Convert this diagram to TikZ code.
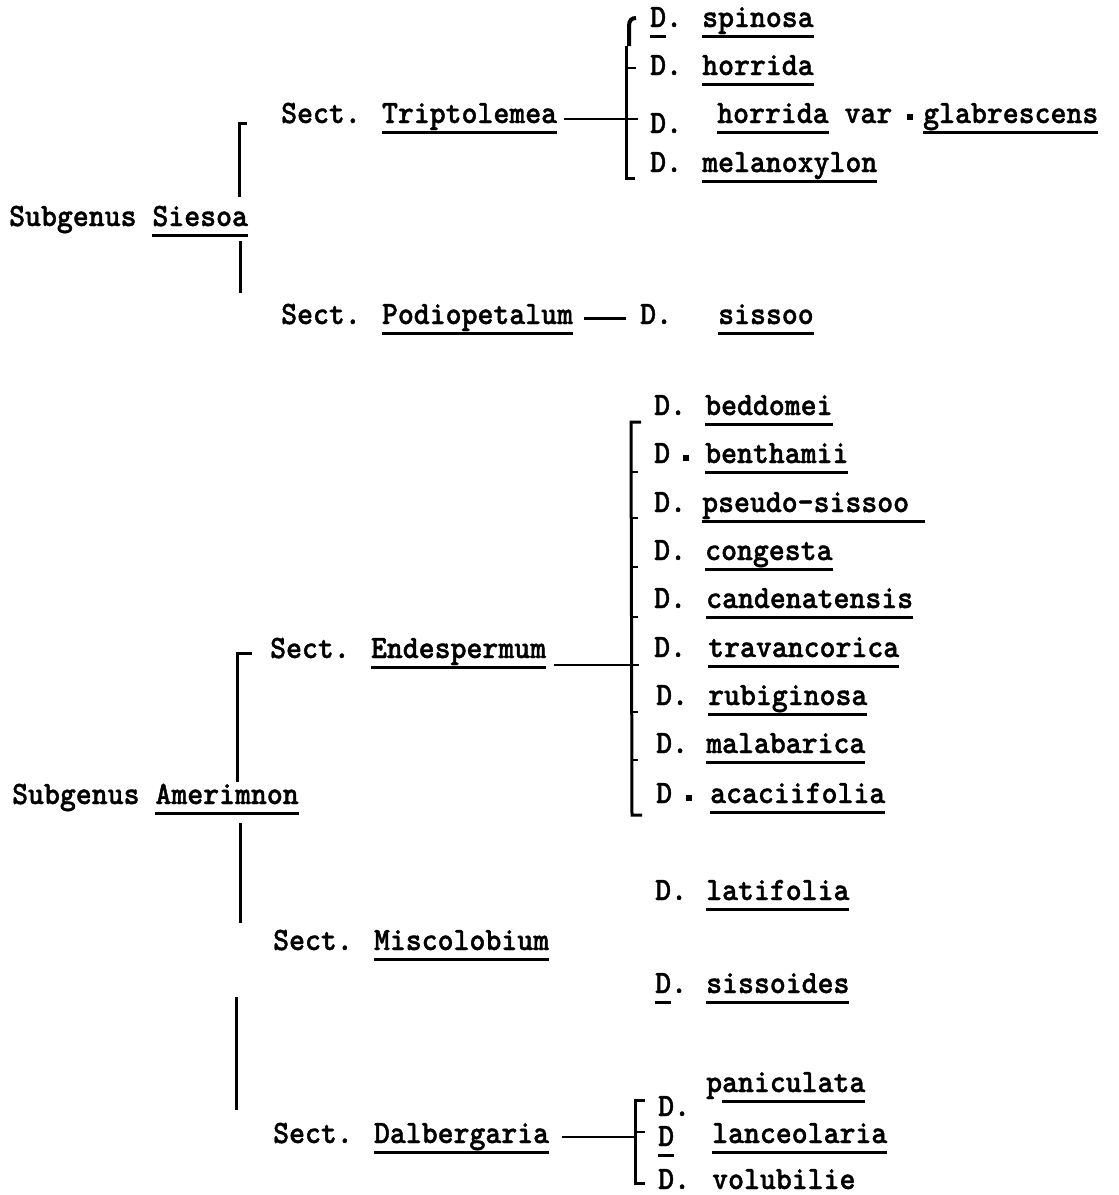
\documentclass[tikz,border=0pt]{standalone}
\usepackage{fontspec}
\newfontfamily\tw{lmmonolt10-bold.otf}[FakeStretch=0.93,FakeBold=1.2]
\newsavebox\ulbox
\newcommand{\tul}[1]{\sbox\ulbox{#1}\rlap{\raisebox{-10.5pt}{\rule{\wd\ulbox}{2.8pt}}}\usebox\ulbox}
\begin{document}
\begin{tikzpicture}[x=1pt,y=-1pt,
  lbl/.style={anchor=base west,inner sep=0pt,font=\tw\fontsize{32.6}{36}\selectfont},
  brk/.style={line width=3pt},
  conn/.style={line width=1.8pt},
  sq/.style={fill=black,inner sep=0pt,minimum size=6.5pt}]
\useasboundingbox (0,0) rectangle (1119,1195);
% ---------------- Subgenus Siesoa
\node[lbl] (siesoa) at (9,226) {Subgenus \tul{Siesoa}};
\node[lbl] (tript) at (281,123) {Sect. \tul{Triptolemea}};
\node[lbl] (podio) at (281,324) {Sect. \tul{Podiopetalum}};
\coordinate (s1) at (239,123); \coordinate (s2) at (239,197);
\coordinate (s3) at (240,241); \coordinate (s4) at (240,293);
\draw[brk] (247,123) -- (s1) -- (s2);
\draw[brk] (s3) -- (s4);
% Triptolemea species
\node[lbl] (d1) at (650,27) {\tul{D}.};
\node[lbl] (n1) at (702,27) {\tul{spinosa}};
\node[lbl] (d2) at (650,75) {D.};
\node[lbl] (n2) at (702,75) {\tul{horrida}};
\node[lbl] (d3) at (650,133) {D.};
\node[lbl] (n3) at (717,123) {\tul{horrida} var};
\node[sq] (q3) at (910,117) {};
\node[lbl] (n3b) at (923,123) {\tul{glabrescens}};
\node[lbl] (d4) at (650,172) {D.};
\node[lbl] (n4) at (702,172) {\tul{melanoxylon}};
\coordinate (t0) at (626,46); \coordinate (t1) at (626,68);
\coordinate (t2) at (626,119); \coordinate (t3) at (626,178);
\draw[line width=4pt] (629,46) -- (629,26) .. controls (629,20) and (632,18) .. (636,18);
\draw[brk] (t0) -- (t3) -- (635,178);
\draw[conn] (t1) -- (636,68);
\coordinate (tc) at (564,119);
\draw[conn] (tc) -- (t2) -- (638,119);
% Podiopetalum
\node[lbl] (d5) at (640,324) {D.};
\node[lbl] (n5) at (718,324) {\tul{sissoo}};
\coordinate (pc) at (584,318);
\draw[line width=3pt] (pc) -- (626,318);
% ---------------- Subgenus Amerimnon
\node[lbl] (amer) at (12,804) {Subgenus \tul{Amerimnon}};
\node[lbl] (endes) at (270,658) {Sect. \tul{Endespermum}};
\node[lbl] (misc) at (273,950) {Sect. \tul{Miscolobium}};
\node[lbl] (dalb) at (273,1143) {Sect. \tul{Dalbergaria}};
\coordinate (a1) at (237,653); \coordinate (a2) at (237,782);
\draw[brk] (252,653) -- (a1) -- (a2);
\draw[brk] (240,823) -- (240,923);
\draw[brk] (236,997) -- (236,1110);
% Endespermum species
\foreach \b/\nm/\nx [count=\i] in {415/beddomei/705, 463/benthamii/705, 512/pseudo-sissoo\ /702, 560/congesta/705, 608/candenatensis/706, 657/travancorica/708, 705/rubiginosa/708, 753/malabarica/706, 803/acaciifolia/710}{
  \node[lbl] (e\i) at (\nx,\b) {\tul{\nm}};
}
\node[lbl] (ed1) at (654,415) {D.};
\node[lbl] (ed2) at (654,463) {D}; \node[sq] at (686,458) {};
\node[lbl] (ed3) at (654,512) {D.};
\node[lbl] (ed4) at (654,560) {D.};
\node[lbl] (ed5) at (654,608) {D.};
\node[lbl] (ed6) at (654,657) {D.};
\node[lbl] (ed7) at (656,705) {D.};
\node[lbl] (ed8) at (656,753) {D.};
\node[lbl] (ed9) at (656,803) {D}; \node[sq] at (689,798) {};
\coordinate (b0) at (631,422); \coordinate (b9) at (632,815);
\draw[brk] (641,422) -- (b0) -- (b9) -- (642,815);
\foreach \y in {472,518,567,617,712,760}{\draw[conn] (631.5,\y) -- (638,\y);}
\coordinate (bm) at (631.5,665);
\coordinate (ec) at (554,665);
\draw[conn] (ec) -- (bm) -- (639,665);
% Miscolobium species
\node[lbl] (m1d) at (655,900) {D.};
\node[lbl] (m1) at (706,900) {\tul{latifolia}};
\node[lbl] (m2d) at (655,993) {\tul{D}.};
\node[lbl] (m2) at (706,993) {\tul{sissoides}};
% Dalbergaria species
\node[lbl] (p1d) at (658,1116) {D.};
\node[lbl] (p1) at (706,1092) {p\tul{aniculata}};
\node[lbl] (p2d) at (658,1146) {\tul{D}};
\node[lbl] (p2) at (712,1143) {\tul{lanceolaria}};
\node[lbl] (p3d) at (658,1189) {D.};
\node[lbl] (p3) at (712,1189) {volubilie};
\coordinate (c0) at (635,1100); \coordinate (c1) at (635,1132); \coordinate (c2) at (635,1183);
\draw[brk] (645,1100) -- (c0) -- (c2) -- (645,1183);
\draw[conn] (c1) -- (645,1132);
\coordinate (dc) at (562,1137);
\draw[conn] (dc) -- (635,1137);
\end{tikzpicture}
\end{document}
